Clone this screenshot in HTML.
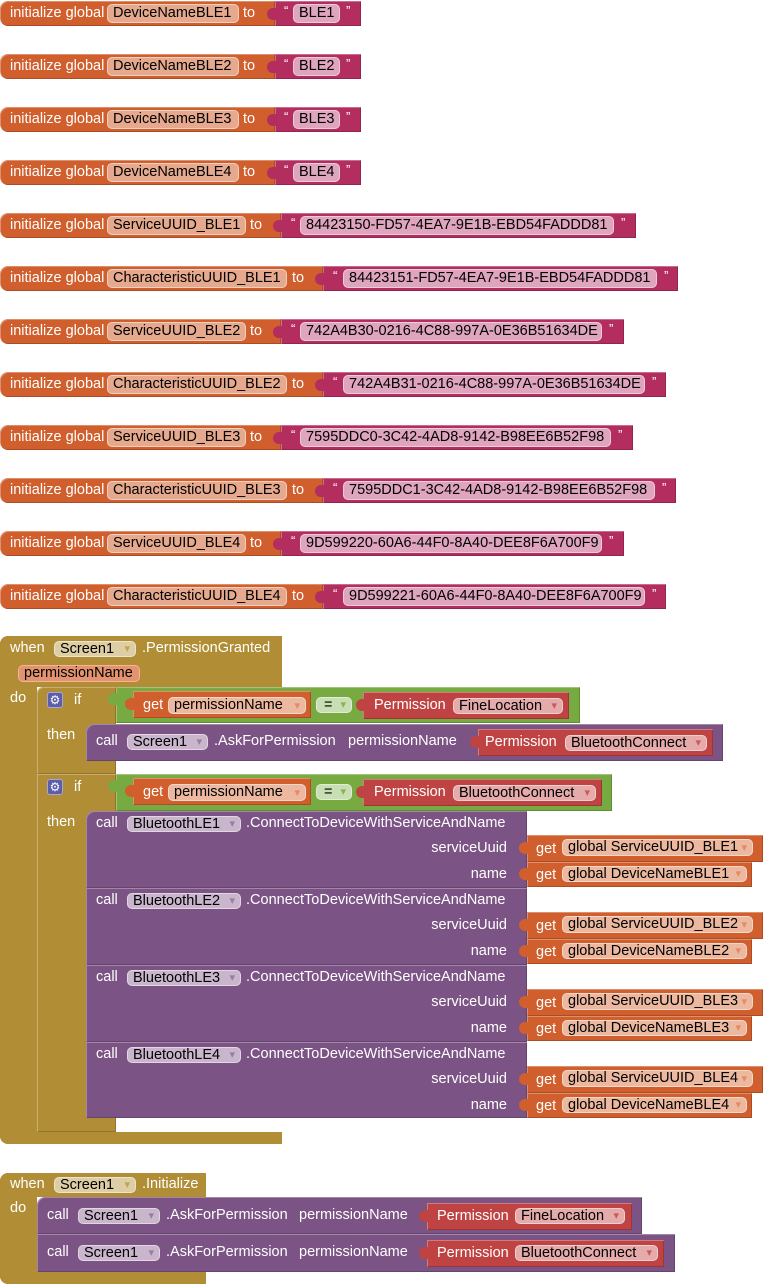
<!DOCTYPE html>
<html><head><meta charset="utf-8"><style>
*{margin:0;padding:0}
body{width:763px;height:1285px;position:relative;overflow:hidden;background:#fff;font-family:"Liberation Sans",Arial,sans-serif;font-size:14.5px}
body>div{position:absolute;box-sizing:border-box;white-space:nowrap}
.t{color:#fff;height:20px;line-height:20px}
.q{color:#fff;font-size:13px;line-height:14px}
.f{color:#000;padding-left:5px;border:1px solid rgba(255,255,255,.45);border-radius:5px}
.f span{position:absolute;right:5px;top:0;font-family:"DejaVu Sans",sans-serif;font-size:11px}
.o{background:#D05F2D}.m{background:#B32D5E}.g{background:#B18E35}.p{background:#7C5385}.gr{background:#77AB41}.r{background:#BF4343}
.fo{background:#E6A98D}.fm{background:#E0A5BE}.fg{background:#DDCEA5}.fp{background:#C9B6CD}.fgr{background:#C8DEB3}.fr{background:#E5AAAA}.fget{background:#ECB89F}
.fg span{color:#C4A24E}.fp span{color:#9A7DA0}.fr span{color:#D05858}.fget span{color:#E58A62}.fgr span{color:#86B552}
.tab{width:9px;height:12px;border-radius:6px 0 0 6px}
.hl{box-shadow:inset 1px 1px 0 rgba(255,255,255,.3),inset -1px -1px 0 rgba(0,0,0,.18)}
.gear{width:16px;height:16px;background:#5B5EA9;border:1px solid #A9A5D6;border-radius:3px;color:#fff;font-family:"DejaVu Sans",sans-serif;font-size:12px;line-height:14px;text-align:center}
</style></head><body>

<!-- Row 0 -->
<div class="o hl" style="left:0;top:1px;width:275px;height:25px;border-radius:8px 0 0 8px"></div>
<div class="t" style="left:10px;top:3px">initialize global</div>
<div class="f fo" style="left:107px;top:4px;width:132px;height:19px;line-height:17px">DeviceNameBLE1</div>
<div class="t" style="left:243px;top:3px">to</div>
<div class="m hl" style="left:275px;top:1px;width:86px;height:25px"></div>
<div class="m tab" style="left:267px;top:8px"></div>
<div class="q" style="left:284px;top:4px">“</div>
<div class="f fm" style="left:293px;top:4px;width:47px;height:19px;line-height:17px">BLE1</div>
<div class="q" style="left:346px;top:4px">”</div>

<!-- Row 1 -->
<div class="o hl" style="left:0;top:54px;width:275px;height:25px;border-radius:8px 0 0 8px"></div>
<div class="t" style="left:10px;top:56px">initialize global</div>
<div class="f fo" style="left:107px;top:57px;width:132px;height:19px;line-height:17px">DeviceNameBLE2</div>
<div class="t" style="left:243px;top:56px">to</div>
<div class="m hl" style="left:275px;top:54px;width:86px;height:25px"></div>
<div class="m tab" style="left:267px;top:61px"></div>
<div class="q" style="left:284px;top:57px">“</div>
<div class="f fm" style="left:293px;top:57px;width:47px;height:19px;line-height:17px">BLE2</div>
<div class="q" style="left:346px;top:57px">”</div>

<!-- Row 2 -->
<div class="o hl" style="left:0;top:107px;width:275px;height:25px;border-radius:8px 0 0 8px"></div>
<div class="t" style="left:10px;top:109px">initialize global</div>
<div class="f fo" style="left:107px;top:110px;width:132px;height:19px;line-height:17px">DeviceNameBLE3</div>
<div class="t" style="left:243px;top:109px">to</div>
<div class="m hl" style="left:275px;top:107px;width:86px;height:25px"></div>
<div class="m tab" style="left:267px;top:114px"></div>
<div class="q" style="left:284px;top:110px">“</div>
<div class="f fm" style="left:293px;top:110px;width:47px;height:19px;line-height:17px">BLE3</div>
<div class="q" style="left:346px;top:110px">”</div>

<!-- Row 3 -->
<div class="o hl" style="left:0;top:160px;width:275px;height:25px;border-radius:8px 0 0 8px"></div>
<div class="t" style="left:10px;top:162px">initialize global</div>
<div class="f fo" style="left:107px;top:163px;width:132px;height:19px;line-height:17px">DeviceNameBLE4</div>
<div class="t" style="left:243px;top:162px">to</div>
<div class="m hl" style="left:275px;top:160px;width:86px;height:25px"></div>
<div class="m tab" style="left:267px;top:167px"></div>
<div class="q" style="left:284px;top:163px">“</div>
<div class="f fm" style="left:293px;top:163px;width:47px;height:19px;line-height:17px">BLE4</div>
<div class="q" style="left:346px;top:163px">”</div>

<!-- Row 4 -->
<div class="o hl" style="left:0;top:213px;width:281px;height:25px;border-radius:8px 0 0 8px"></div>
<div class="t" style="left:10px;top:215px">initialize global</div>
<div class="f fo" style="left:107px;top:216px;width:139px;height:19px;line-height:17px">ServiceUUID_BLE1</div>
<div class="t" style="left:250px;top:215px">to</div>
<div class="m hl" style="left:281px;top:213px;width:355px;height:25px"></div>
<div class="m tab" style="left:273px;top:220px"></div>
<div class="q" style="left:291px;top:216px">“</div>
<div class="f fm" style="left:300px;top:216px;width:314px;height:19px;line-height:17px">84423150-FD57-4EA7-9E1B-EBD54FADDD81</div>
<div class="q" style="left:621px;top:216px">”</div>

<!-- Row 5 -->
<div class="o hl" style="left:0;top:266px;width:323px;height:25px;border-radius:8px 0 0 8px"></div>
<div class="t" style="left:10px;top:268px">initialize global</div>
<div class="f fo" style="left:107px;top:269px;width:180px;height:19px;line-height:17px">CharacteristicUUID_BLE1</div>
<div class="t" style="left:292px;top:268px">to</div>
<div class="m hl" style="left:323px;top:266px;width:355px;height:25px"></div>
<div class="m tab" style="left:315px;top:273px"></div>
<div class="q" style="left:333px;top:269px">“</div>
<div class="f fm" style="left:343px;top:269px;width:314px;height:19px;line-height:17px">84423151-FD57-4EA7-9E1B-EBD54FADDD81</div>
<div class="q" style="left:664px;top:269px">”</div>

<!-- Row 6 -->
<div class="o hl" style="left:0;top:319px;width:281px;height:25px;border-radius:8px 0 0 8px"></div>
<div class="t" style="left:10px;top:321px">initialize global</div>
<div class="f fo" style="left:107px;top:322px;width:139px;height:19px;line-height:17px">ServiceUUID_BLE2</div>
<div class="t" style="left:250px;top:321px">to</div>
<div class="m hl" style="left:281px;top:319px;width:343px;height:25px"></div>
<div class="m tab" style="left:273px;top:326px"></div>
<div class="q" style="left:291px;top:322px">“</div>
<div class="f fm" style="left:300px;top:322px;width:302px;height:19px;line-height:17px">742A4B30-0216-4C88-997A-0E36B51634DE</div>
<div class="q" style="left:609px;top:322px">”</div>

<!-- Row 7 -->
<div class="o hl" style="left:0;top:372px;width:323px;height:25px;border-radius:8px 0 0 8px"></div>
<div class="t" style="left:10px;top:374px">initialize global</div>
<div class="f fo" style="left:107px;top:375px;width:180px;height:19px;line-height:17px">CharacteristicUUID_BLE2</div>
<div class="t" style="left:292px;top:374px">to</div>
<div class="m hl" style="left:323px;top:372px;width:343px;height:25px"></div>
<div class="m tab" style="left:315px;top:379px"></div>
<div class="q" style="left:333px;top:375px">“</div>
<div class="f fm" style="left:343px;top:375px;width:302px;height:19px;line-height:17px">742A4B31-0216-4C88-997A-0E36B51634DE</div>
<div class="q" style="left:652px;top:375px">”</div>

<!-- Row 8 -->
<div class="o hl" style="left:0;top:425px;width:281px;height:25px;border-radius:8px 0 0 8px"></div>
<div class="t" style="left:10px;top:427px">initialize global</div>
<div class="f fo" style="left:107px;top:428px;width:139px;height:19px;line-height:17px">ServiceUUID_BLE3</div>
<div class="t" style="left:250px;top:427px">to</div>
<div class="m hl" style="left:281px;top:425px;width:352px;height:25px"></div>
<div class="m tab" style="left:273px;top:432px"></div>
<div class="q" style="left:291px;top:428px">“</div>
<div class="f fm" style="left:300px;top:428px;width:311px;height:19px;line-height:17px">7595DDC0-3C42-4AD8-9142-B98EE6B52F98</div>
<div class="q" style="left:618px;top:428px">”</div>

<!-- Row 9 -->
<div class="o hl" style="left:0;top:478px;width:323px;height:25px;border-radius:8px 0 0 8px"></div>
<div class="t" style="left:10px;top:480px">initialize global</div>
<div class="f fo" style="left:107px;top:481px;width:180px;height:19px;line-height:17px">CharacteristicUUID_BLE3</div>
<div class="t" style="left:292px;top:480px">to</div>
<div class="m hl" style="left:323px;top:478px;width:353px;height:25px"></div>
<div class="m tab" style="left:315px;top:485px"></div>
<div class="q" style="left:333px;top:481px">“</div>
<div class="f fm" style="left:343px;top:481px;width:312px;height:19px;line-height:17px">7595DDC1-3C42-4AD8-9142-B98EE6B52F98</div>
<div class="q" style="left:662px;top:481px">”</div>

<!-- Row 10 -->
<div class="o hl" style="left:0;top:531px;width:281px;height:25px;border-radius:8px 0 0 8px"></div>
<div class="t" style="left:10px;top:533px">initialize global</div>
<div class="f fo" style="left:107px;top:534px;width:139px;height:19px;line-height:17px">ServiceUUID_BLE4</div>
<div class="t" style="left:250px;top:533px">to</div>
<div class="m hl" style="left:281px;top:531px;width:343px;height:25px"></div>
<div class="m tab" style="left:273px;top:538px"></div>
<div class="q" style="left:291px;top:534px">“</div>
<div class="f fm" style="left:300px;top:534px;width:302px;height:19px;line-height:17px">9D599220-60A6-44F0-8A40-DEE8F6A700F9</div>
<div class="q" style="left:609px;top:534px">”</div>

<!-- Row 11 -->
<div class="o hl" style="left:0;top:584px;width:323px;height:25px;border-radius:8px 0 0 8px"></div>
<div class="t" style="left:10px;top:586px">initialize global</div>
<div class="f fo" style="left:107px;top:587px;width:180px;height:19px;line-height:17px">CharacteristicUUID_BLE4</div>
<div class="t" style="left:292px;top:586px">to</div>
<div class="m hl" style="left:323px;top:584px;width:343px;height:25px"></div>
<div class="m tab" style="left:315px;top:591px"></div>
<div class="q" style="left:333px;top:587px">“</div>
<div class="f fm" style="left:343px;top:587px;width:302px;height:19px;line-height:17px">9D599221-60A6-44F0-8A40-DEE8F6A700F9</div>
<div class="q" style="left:652px;top:587px">”</div>

<!-- Event 1: PermissionGranted -->
<div class="g" style="left:0;top:636px;width:37px;height:508px;border-radius:8px 0 0 8px"></div>
<div class="g" style="left:0;top:636px;width:282px;height:51px;border-radius:8px 0 0 0"></div>
<div class="g" style="left:0;top:1132px;width:282px;height:12px;border-radius:0 0 0 8px"></div>
<div class="t" style="left:10px;top:638px">when</div>
<div class="f fg" style="left:54px;top:641px;width:82px;height:16px;line-height:14px">Screen1<span>▾</span></div>
<div class="t" style="left:142px;top:638px">.PermissionGranted</div>
<div class="f" style="left:18px;top:665px;width:122px;height:17px;line-height:15px;background:#E3946F;border-color:#F2B49A">permissionName</div>
<div class="t" style="left:10px;top:688px">do</div>

<!-- If 1 -->
<div class="g hl" style="left:37px;top:687px;width:79px;height:87px;border-radius:6px 0 0 0"></div>
<div class="gear" style="left:47px;top:692px">⚙</div>
<div class="t" style="left:74px;top:690px">if</div>
<div class="t" style="left:47px;top:725px">then</div>
<div class="gr hl" style="left:116px;top:687px;width:464px;height:36px"></div>
<div class="gr tab" style="left:108px;top:693px"></div>
<div class="o hl" style="left:133px;top:691px;width:178px;height:27px"></div>
<div class="o tab" style="left:125px;top:698px"></div>
<div class="t" style="left:143px;top:695px">get</div>
<div class="f fget" style="left:168px;top:697px;width:138px;height:17px;line-height:15px">permissionName<span>▾</span></div>
<div class="f fgr" style="left:316px;top:697px;width:36px;height:16px;line-height:14px;padding-left:7px">=<span>▾</span></div>
<div class="r hl" style="left:363px;top:692px;width:206px;height:27px"></div>
<div class="r tab" style="left:356px;top:699px"></div>
<div class="t" style="left:374px;top:695px">Permission</div>
<div class="f fr" style="left:453px;top:698px;width:110px;height:16px;line-height:14px">FineLocation<span>▾</span></div>

<div class="p hl" style="left:86px;top:724px;width:637px;height:37px;border-radius:8px 0 0 0"></div>
<div class="t" style="left:96px;top:731px">call</div>
<div class="f fp" style="left:127px;top:734px;width:81px;height:16px;line-height:14px">Screen1<span>▾</span></div>
<div class="t" style="left:214px;top:731px">.AskForPermission</div>
<div class="t" style="left:348px;top:731px">permissionName</div>
<div class="r hl" style="left:478px;top:729px;width:235px;height:27px"></div>
<div class="r tab" style="left:470px;top:736px"></div>
<div class="t" style="left:485px;top:732px">Permission</div>
<div class="f fr" style="left:565px;top:735px;width:142px;height:16px;line-height:14px">BluetoothConnect<span>▾</span></div>

<!-- If 2 -->
<div class="g hl" style="left:37px;top:774px;width:79px;height:358px"></div>
<div class="gear" style="left:47px;top:779px">⚙</div>
<div class="t" style="left:74px;top:777px">if</div>
<div class="t" style="left:47px;top:812px">then</div>
<div class="gr hl" style="left:116px;top:774px;width:496px;height:37px"></div>
<div class="gr tab" style="left:108px;top:780px"></div>
<div class="o hl" style="left:133px;top:778px;width:178px;height:27px"></div>
<div class="o tab" style="left:125px;top:785px"></div>
<div class="t" style="left:143px;top:782px">get</div>
<div class="f fget" style="left:168px;top:784px;width:138px;height:17px;line-height:15px">permissionName<span>▾</span></div>
<div class="f fgr" style="left:316px;top:784px;width:36px;height:16px;line-height:14px;padding-left:7px">=<span>▾</span></div>
<div class="r hl" style="left:363px;top:779px;width:239px;height:27px"></div>
<div class="r tab" style="left:356px;top:786px"></div>
<div class="t" style="left:374px;top:782px">Permission</div>
<div class="f fr" style="left:453px;top:785px;width:143px;height:16px;line-height:14px">BluetoothConnect<span>▾</span></div>

<!-- Call BLE1 -->
<div class="p hl" style="left:86px;top:811px;width:441px;height:77px;border-radius:8px 0 0 0"></div>
<div class="t" style="left:96px;top:813px">call</div>
<div class="f fp" style="left:127px;top:816px;width:114px;height:16px;line-height:14px">BluetoothLE1<span>▾</span></div>
<div class="t" style="left:246px;top:813px">.ConnectToDeviceWithServiceAndName</div>
<div class="t" style="right:256px;top:838px">serviceUuid</div>
<div class="t" style="right:256px;top:864px">name</div>
<div class="o hl" style="left:527px;top:835px;width:236px;height:27px"></div>
<div class="o tab" style="left:519px;top:842px"></div>
<div class="t" style="left:536px;top:839px">get</div>
<div class="f fget" style="left:562px;top:839px;width:191px;height:17px;line-height:15px">global ServiceUUID_BLE1<span>▾</span></div>
<div class="o hl" style="left:527px;top:862px;width:225px;height:25px"></div>
<div class="o tab" style="left:519px;top:868px"></div>
<div class="t" style="left:536px;top:865px">get</div>
<div class="f fget" style="left:562px;top:866px;width:185px;height:16px;line-height:14px">global DeviceNameBLE1<span>▾</span></div>

<!-- Call BLE2 -->
<div class="p hl" style="left:86px;top:888px;width:441px;height:77px"></div>
<div class="t" style="left:96px;top:890px">call</div>
<div class="f fp" style="left:127px;top:893px;width:114px;height:16px;line-height:14px">BluetoothLE2<span>▾</span></div>
<div class="t" style="left:246px;top:890px">.ConnectToDeviceWithServiceAndName</div>
<div class="t" style="right:256px;top:915px">serviceUuid</div>
<div class="t" style="right:256px;top:941px">name</div>
<div class="o hl" style="left:527px;top:912px;width:236px;height:27px"></div>
<div class="o tab" style="left:519px;top:919px"></div>
<div class="t" style="left:536px;top:916px">get</div>
<div class="f fget" style="left:562px;top:916px;width:191px;height:17px;line-height:15px">global ServiceUUID_BLE2<span>▾</span></div>
<div class="o hl" style="left:527px;top:939px;width:225px;height:25px"></div>
<div class="o tab" style="left:519px;top:945px"></div>
<div class="t" style="left:536px;top:942px">get</div>
<div class="f fget" style="left:562px;top:943px;width:185px;height:16px;line-height:14px">global DeviceNameBLE2<span>▾</span></div>

<!-- Call BLE3 -->
<div class="p hl" style="left:86px;top:965px;width:441px;height:77px"></div>
<div class="t" style="left:96px;top:967px">call</div>
<div class="f fp" style="left:127px;top:970px;width:114px;height:16px;line-height:14px">BluetoothLE3<span>▾</span></div>
<div class="t" style="left:246px;top:967px">.ConnectToDeviceWithServiceAndName</div>
<div class="t" style="right:256px;top:992px">serviceUuid</div>
<div class="t" style="right:256px;top:1018px">name</div>
<div class="o hl" style="left:527px;top:989px;width:236px;height:27px"></div>
<div class="o tab" style="left:519px;top:996px"></div>
<div class="t" style="left:536px;top:993px">get</div>
<div class="f fget" style="left:562px;top:993px;width:191px;height:17px;line-height:15px">global ServiceUUID_BLE3<span>▾</span></div>
<div class="o hl" style="left:527px;top:1016px;width:225px;height:25px"></div>
<div class="o tab" style="left:519px;top:1022px"></div>
<div class="t" style="left:536px;top:1019px">get</div>
<div class="f fget" style="left:562px;top:1020px;width:185px;height:16px;line-height:14px">global DeviceNameBLE3<span>▾</span></div>

<!-- Call BLE4 -->
<div class="p hl" style="left:86px;top:1042px;width:441px;height:76px"></div>
<div class="t" style="left:96px;top:1044px">call</div>
<div class="f fp" style="left:127px;top:1047px;width:114px;height:16px;line-height:14px">BluetoothLE4<span>▾</span></div>
<div class="t" style="left:246px;top:1044px">.ConnectToDeviceWithServiceAndName</div>
<div class="t" style="right:256px;top:1069px">serviceUuid</div>
<div class="t" style="right:256px;top:1095px">name</div>
<div class="o hl" style="left:527px;top:1066px;width:236px;height:27px"></div>
<div class="o tab" style="left:519px;top:1073px"></div>
<div class="t" style="left:536px;top:1070px">get</div>
<div class="f fget" style="left:562px;top:1070px;width:191px;height:17px;line-height:15px">global ServiceUUID_BLE4<span>▾</span></div>
<div class="o hl" style="left:527px;top:1093px;width:225px;height:25px"></div>
<div class="o tab" style="left:519px;top:1099px"></div>
<div class="t" style="left:536px;top:1096px">get</div>
<div class="f fget" style="left:562px;top:1097px;width:185px;height:16px;line-height:14px">global DeviceNameBLE4<span>▾</span></div>

<!-- Event 2: Initialize -->
<div class="g" style="left:0;top:1173px;width:37px;height:111px;border-radius:8px 0 0 8px"></div>
<div class="g" style="left:0;top:1173px;width:206px;height:24px;border-radius:8px 0 0 0"></div>
<div class="g" style="left:0;top:1272px;width:206px;height:12px;border-radius:0 0 0 8px"></div>
<div class="t" style="left:10px;top:1174px">when</div>
<div class="f fg" style="left:54px;top:1177px;width:82px;height:16px;line-height:14px">Screen1<span>▾</span></div>
<div class="t" style="left:142px;top:1174px">.Initialize</div>
<div class="t" style="left:10px;top:1198px">do</div>

<div class="p hl" style="left:37px;top:1197px;width:605px;height:37px;border-radius:8px 0 0 0"></div>
<div class="t" style="left:47px;top:1205px">call</div>
<div class="f fp" style="left:78px;top:1208px;width:82px;height:16px;line-height:14px">Screen1<span>▾</span></div>
<div class="t" style="left:166px;top:1205px">.AskForPermission</div>
<div class="t" style="left:299px;top:1205px">permissionName</div>
<div class="r hl" style="left:427px;top:1203px;width:205px;height:27px"></div>
<div class="r tab" style="left:419px;top:1210px"></div>
<div class="t" style="left:437px;top:1206px">Permission</div>
<div class="f fr" style="left:515px;top:1208px;width:110px;height:16px;line-height:14px">FineLocation<span>▾</span></div>

<div class="p hl" style="left:37px;top:1234px;width:638px;height:38px"></div>
<div class="t" style="left:47px;top:1242px">call</div>
<div class="f fp" style="left:78px;top:1245px;width:82px;height:16px;line-height:14px">Screen1<span>▾</span></div>
<div class="t" style="left:166px;top:1242px">.AskForPermission</div>
<div class="t" style="left:299px;top:1242px">permissionName</div>
<div class="r hl" style="left:427px;top:1240px;width:237px;height:27px"></div>
<div class="r tab" style="left:419px;top:1247px"></div>
<div class="t" style="left:437px;top:1243px">Permission</div>
<div class="f fr" style="left:515px;top:1245px;width:143px;height:16px;line-height:14px">BluetoothConnect<span>▾</span></div>

</body></html>
